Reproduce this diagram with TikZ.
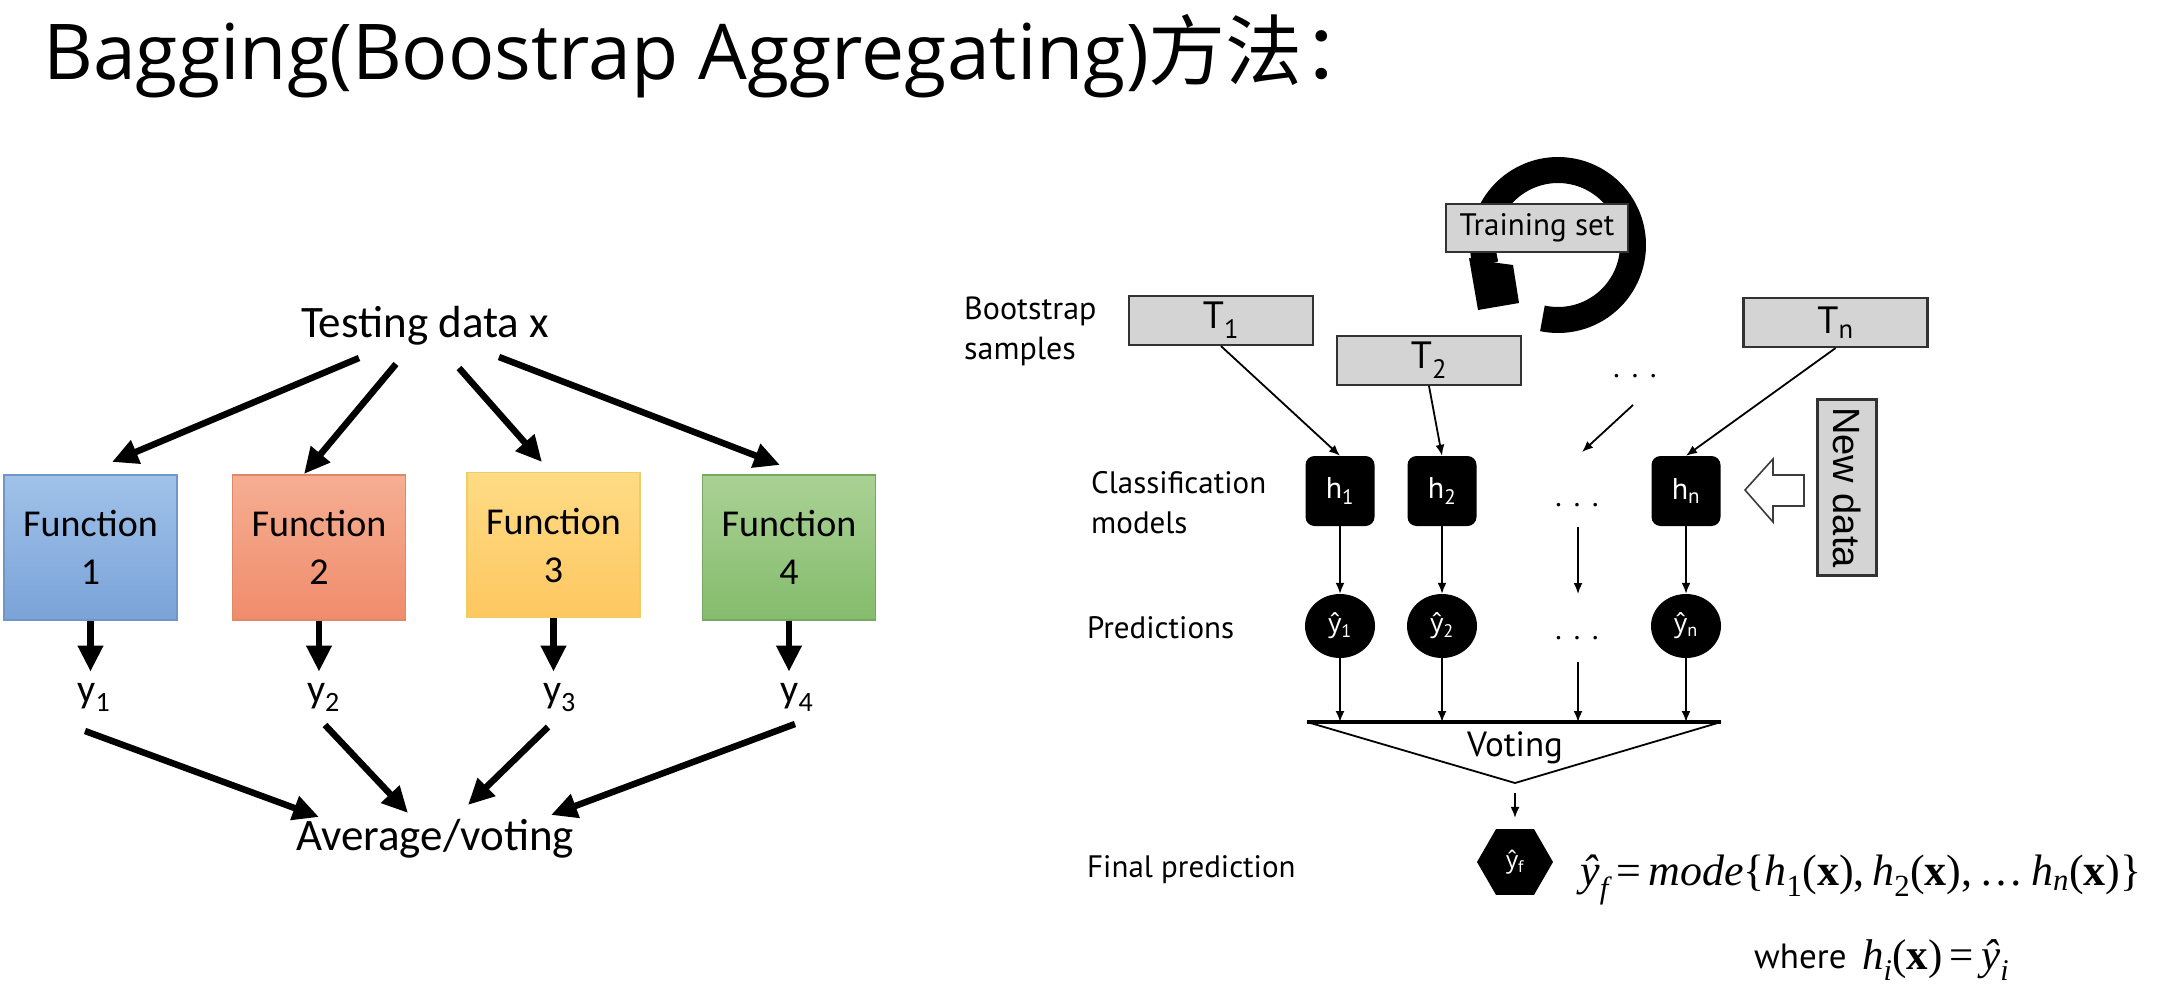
\documentclass[tikz,border=0pt]{standalone}
\usepackage{fontspec}
\setmainfont{Liberation Serif}
\newfontfamily\titlefont{Open Sans}
\newfontfamily\cjkfont{Noto Sans CJK SC}
\newfontfamily\calfont{Carlito}
\newfontfamily\gillfont{PT Sans}
\newfontfamily\yfont{Open Sans}
\newfontfamily\arialfont{Liberation Sans}
\usetikzlibrary{arrows.meta,shapes.geometric}

\definecolor{fblue}{RGB}{160,194,233}
\definecolor{fblueb}{RGB}{122,163,216}
\definecolor{fbluel}{RGB}{112,150,200}
\definecolor{fred}{RGB}{246,174,146}
\definecolor{fredb}{RGB}{240,140,108}
\definecolor{fredl}{RGB}{222,135,105}
\definecolor{fyel}{RGB}{255,219,133}
\definecolor{fyelb}{RGB}{254,199,96}
\definecolor{fyell}{RGB}{240,205,100}
\definecolor{fgrn}{RGB}{170,209,148}
\definecolor{fgrnb}{RGB}{132,188,108}
\definecolor{fgrnl}{RGB}{118,168,98}
\definecolor{boxgray}{RGB}{212,212,212}
\definecolor{boxline}{RGB}{50,50,50}
\definecolor{arrline}{RGB}{60,60,60}

\newcommand\iv[1]{{\itshape #1}}
\newcommand\yhat{{\yfont ŷ}}

\begin{document}
\begin{tikzpicture}[x=1pt,y=-1pt,
  calf/.style={font=\calfont\fontsize{45}{52}\selectfont, inner sep=0pt},
  funcbox/.style={draw, line width=1.2pt, minimum width=173pt, minimum height=145pt,
    inner sep=0pt, align=center, font=\calfont\fontsize{38}{48}\selectfont},
  bigarrow/.style={line width=6.5pt, -{Triangle[length=26pt,width=24pt]}},
  gill/.style={font=\gillfont\fontsize{31}{40}\selectfont, inner sep=0pt},
  graybox/.style={draw=boxline, fill=boxgray, line width=2.2pt, inner sep=0pt},
  tbox/.style={graybox, minimum width=184pt, minimum height=49pt,
    font=\gillfont\fontsize{38}{40}\selectfont},
  hbox/.style={fill=black, rounded corners=9pt, minimum width=69pt, minimum height=70pt,
    inner sep=0pt, text=white, font=\gillfont\fontsize{30}{36}\selectfont},
  ycirc/.style={ellipse, fill=black, minimum width=70pt, minimum height=64pt,
    inner sep=0pt, text=white, font=\gillfont\fontsize{26}{32}\selectfont},
  thinarrow/.style={line width=1.8pt, -{Latex[length=11pt,width=9pt]}},
  dotsnode/.style={font=\gillfont\fontsize{30}{36}\selectfont, inner sep=0pt},
  ylab/.style={font=\calfont\fontsize{40}{48}\selectfont, inner sep=0pt, anchor=base},
]
\useasboundingbox (0,0) rectangle (2176,998);
\fill[white] (0,0) rectangle (2176,998);

% ---------- heading ----------
\node[anchor=base west, inner sep=0pt, font=\titlefont\fontsize{77}{92}\selectfont]
  (title) at (43,80) {Bagging(Boostrap Aggregating){\cjkfont 方法：}};

% ---------- left: averaging of four functions ----------
\node[calf, anchor=base] (test) at (425,337) {Testing data x};

\node[funcbox, top color=fblue, bottom color=fblueb, draw=fbluel] (f1) at (90.5,547.5) {Function\\1};
\node[funcbox, top color=fred, bottom color=fredb, draw=fredl] (f2) at (319,547.5) {Function\\2};
\node[funcbox, top color=fyel, bottom color=fyelb, draw=fyell] (f3) at (553.5,545) {Function\\3};
\node[funcbox, top color=fgrn, bottom color=fgrnb, draw=fgrnl] (f4) at (789,547.5) {Function\\4};

\coordinate (s1) at (359,358); \coordinate (e1) at (112,462);
\coordinate (s2) at (396,364); \coordinate (e2) at (304,474);
\coordinate (s3) at (459,368); \coordinate (e3) at (542,462);
\coordinate (s4) at (499,357); \coordinate (e4) at (780,465);
\draw[bigarrow] (s1) -- (e1);
\draw[bigarrow] (s2) -- (e2);
\draw[bigarrow] (s3) -- (e3);
\draw[bigarrow] (s4) -- (e4);

\node[ylab] (y1) at (94,702) {y\textsubscript{1}};
\node[ylab] (y2) at (323.5,702) {y\textsubscript{2}};
\node[ylab] (y3) at (559.5,702) {y\textsubscript{3}};
\node[ylab] (y4) at (797,702) {y\textsubscript{4}};

\foreach \i in {1,2,3,4}
  \draw[bigarrow, shorten >=11pt] (f\i.south) -- (f\i.south |- y\i.north);

\node[calf, anchor=base] (avg) at (435,850) {Average/voting};

\coordinate (c1) at (85,731);  \coordinate (d1) at (319,817);
\coordinate (c2) at (325,725); \coordinate (d2) at (408,813);
\coordinate (c3) at (548,727); \coordinate (d3) at (468,805);
\coordinate (c4) at (795,724); \coordinate (d4) at (551,815);
\foreach \i in {1,2,3,4}
  \draw[bigarrow] (c\i) -- (d\i);

% ---------- right: bagging ensemble ----------
% resampling loop behind the training set
\draw[line width=26pt] plot[domain=-195:102, samples=90]
  ({1558+75*cos(\x)},{245+75*sin(\x)});
\fill (1469,258) -- (1498,263) -- (1513,265) -- (1519,303) -- (1478,310) -- cycle;
\node[graybox, minimum width=182pt, minimum height=48pt,
  font=\gillfont\fontsize{31}{36}\selectfont] (trn) at (1537,228) {Training set};

\node[gill, anchor=north west, align=left, font=\gillfont\fontsize{32}{40}\selectfont]
  (lboot) at (964,297) {Bootstrap\\samples};
\node[gill, anchor=north west, align=left] (lclass) at (1091,471) {Classification\\models};
\node[gill, anchor=base west] (lpred) at (1087,638) {Predictions};
\node[gill, anchor=base west] (lfinal) at (1087,877) {Final prediction};

\node[tbox] (T1) at (1221,320.5) {T\textsubscript{1}};
\node[tbox] (T2) at (1429,360.5) {T\textsubscript{2}};
\node[tbox] (Tn) at (1835.5,322.5) {T\textsubscript{n}};
\node[dotsnode] (dT) at (1635,376) {.\hspace{12pt}.\hspace{12pt}.};

\node[hbox] (h1) at (1340,491) {h\textsubscript{1}};
\node[hbox] (h2) at (1442,491) {h\textsubscript{2}};
\node[hbox] (hn) at (1686,491) {h\textsubscript{n}};
\node[dotsnode] (dh) at (1577,505) {.\hspace{12pt}.\hspace{12pt}.};

\draw[thinarrow] (T1.south) -- (h1.north);
\draw[thinarrow] (T2.south) -- (h2.north);
\draw[thinarrow] (Tn.south) -- (hn.north);
\coordinate (dA) at (1633,405); \coordinate (dB) at (1582,452);
\draw[thinarrow] (dA) -- (dB);

\node[ycirc] (p1) at (1340,626) {\yhat\textsubscript{1}};
\node[ycirc] (p2) at (1442,626) {\yhat\textsubscript{2}};
\node[ycirc] (pn) at (1686,626) {\yhat\textsubscript{n}};
\node[dotsnode] (dp) at (1577,638) {.\hspace{12pt}.\hspace{12pt}.};

\draw[thinarrow] (h1.south) -- (p1.north);
\draw[thinarrow] (h2.south) -- (p2.north);
\draw[thinarrow] (hn.south) -- (pn.north);
\coordinate (m1) at (1578,527); \coordinate (m2) at (1578,594);
\draw[thinarrow] (m1) -- (m2);

% new data entering the models
\node[graybox, rotate=-90, minimum width=176pt, minimum height=59pt,
  font=\arialfont\fontsize{38}{40}\selectfont] (newd) at (1847,487.5) {New data};
\draw[line width=1.6pt, draw=arrline, fill=white, line join=miter]
  (1745,490) -- (1773,459) -- (1773,475) -- (1804,475) -- (1804,506)
  -- (1773,506) -- (1773,522) -- cycle;

% voting funnel
\coordinate (vl) at (1307,722); \coordinate (vr) at (1721,722); \coordinate (va) at (1515,783);
\draw[line width=1.8pt, line join=miter] (vl) -- (va) -- (vr);
\draw[line width=4pt] (vl) -- (vr);
\node[gill, font=\gillfont\fontsize{35}{38}\selectfont] (vote) at (1515,748) {Voting};

\draw[thinarrow] (p1.south) -- (p1.south |- vl);
\draw[thinarrow] (p2.south) -- (p2.south |- vl);
\draw[thinarrow] (pn.south) -- (pn.south |- vl);
\coordinate (m3) at (1578,662);
\draw[thinarrow] (m3) -- (m3 |- vl);

\node[regular polygon, regular polygon sides=6, fill=black, minimum size=76pt, inner sep=0pt,
  text=white, font=\gillfont\fontsize{24}{28}\selectfont] (hex) at (1515,862) {\yhat\textsubscript{f}};
\draw[thinarrow, shorten <=10pt, shorten >=11pt] (va) -- (hex.north);

\node[anchor=base west, inner sep=0pt, font=\fontsize{44}{48}\selectfont] (fmode) at (1580,885)
  {\iv{ŷ}\textsubscript{\iv{f}}\,=\,\iv{mode}\{\iv{h}\textsubscript{1}(\textbf{x}),\,\iv{h}\textsubscript{2}(\textbf{x}),\,\dots\,\iv{h}\textsubscript{\iv{n}}(\textbf{x})\}};
\node[gill, anchor=base west, font=\gillfont\fontsize{35}{40}\selectfont] (where) at (1754,968) {where};
\node[anchor=base west, inner sep=0pt, font=\fontsize{43}{48}\selectfont] (fhi) at (1862,969)
  {\iv{h}\textsubscript{\iv{i}}(\textbf{x})\,=\,\iv{ŷ}\textsubscript{\iv{i}}};

\end{tikzpicture}
\end{document}
